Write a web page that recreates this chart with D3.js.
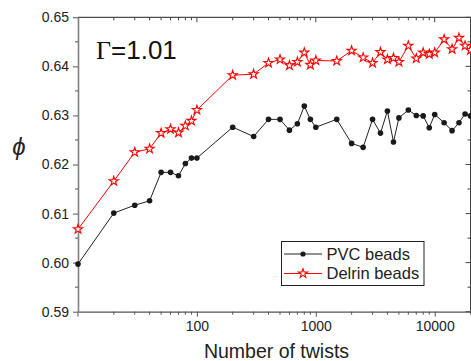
<!DOCTYPE html>
<html>
<head>
<meta charset="utf-8">
<script src="https://cdn.jsdelivr.net/npm/d3@7"></script>
<style>
  body { margin: 0; background: #fff; }
  text { font-family: Arial, "Liberation Sans", sans-serif; }
</style>
</head>
<body>
<script>
// number of twists (shared by both series)
const twists = [10, 20, 30, 40, 50, 60, 70, 80, 90, 100,
    200, 300, 400, 500, 600, 700, 800, 900, 1000, 1500,
    2000, 2500, 3000, 3500, 4000, 4500, 5000, 6000, 7000, 8000, 9000, 10000,
    12000, 14000, 16000, 18000, 20000];

const pvcPhi = [0.5997, 0.6101, 0.6117, 0.6126, 0.6184, 0.6184, 0.6177, 0.6202, 0.6213, 0.6213,
    0.6276, 0.6257, 0.6292, 0.6292, 0.6270, 0.6283, 0.6319, 0.6292, 0.6276, 0.6292,
    0.6243, 0.6235, 0.6292, 0.6264, 0.6309, 0.6246, 0.6295, 0.6311, 0.6300, 0.6299, 0.6275, 0.6302,
    0.6285, 0.6269, 0.6285, 0.6303, 0.6299];

const delrinPhi = [0.6068, 0.6166, 0.6225, 0.6232, 0.6264, 0.6272, 0.6265, 0.6279, 0.6289, 0.6311,
    0.6382, 0.6384, 0.6407, 0.6414, 0.6402, 0.6409, 0.6428, 0.6403, 0.6412, 0.6411,
    0.6432, 0.6418, 0.6407, 0.6429, 0.6414, 0.6417, 0.6409, 0.6442, 0.6416, 0.6428, 0.6425, 0.6428,
    0.6455, 0.6435, 0.6458, 0.6442, 0.6433];

const xTickValues = [100, 1000, 10000];
const yTickValues = [0.59, 0.60, 0.61, 0.62, 0.63, 0.64, 0.65];
const seriesNames = ['PVC beads', 'Delrin beads'];

const width = 471;
const height = 361;
const margin = {top: 17.3, right: 0.5, bottom: 49.3, left: 78};

const svg = d3.select('body')
    .append('svg')
    .attr('width', width)
    .attr('height', height);

const x = d3.scaleLog()
    .domain([10, 20000])
    .range([margin.left, width - margin.right]);

const y = d3.scaleLinear()
    .domain([0.59, 0.65])
    .range([height - margin.bottom, margin.top]);

// minor tick positions
const xMinor = d3.range(1, 5).flatMap(p => d3.range(1, 10).map(k => k * Math.pow(10, p)))
    .filter(v => v > 10 && v <= 20000 && xTickValues.indexOf(v) < 0);
const yMinor = d3.range(0.595, 0.65, 0.01);

const fmtY = d3.format('.2f');

// frame: top and right
svg.append('line')
    .attr('x1', margin.left).attr('x2', width)
    .attr('y1', margin.top).attr('y2', margin.top)
    .attr('stroke', '#222').attr('stroke-width', 1);
svg.append('line')
    .attr('x1', width - margin.right).attr('x2', width - margin.right)
    .attr('y1', margin.top).attr('y2', height - margin.bottom)
    .attr('stroke', '#444').attr('stroke-width', 1);

// top ticks pointing inward
svg.append('g')
    .selectAll('line')
    .data(xMinor.concat(xTickValues))
    .join('line')
    .attr('x1', d => x(d)).attr('x2', d => x(d))
    .attr('y1', margin.top)
    .attr('y2', d => margin.top + (xTickValues.indexOf(d) >= 0 ? 5 : 3))
    .attr('stroke', '#444');

// right ticks pointing inward
svg.append('g')
    .selectAll('line')
    .data(yTickValues.concat(yMinor))
    .join('line')
    .attr('x1', width - margin.right)
    .attr('x2', (d, i) => width - margin.right - (i < yTickValues.length ? 5 : 3))
    .attr('y1', d => y(d)).attr('y2', d => y(d))
    .attr('stroke', '#444');

// bottom axis
const xAxis = svg.append('g')
    .attr('transform', `translate(0,${height - margin.bottom})`)
    .call(d3.axisBottom(x).tickValues(xTickValues).tickFormat(d3.format('d')).tickSize(5).tickPadding(4).tickSizeOuter(0));
xAxis.select('.domain').attr('stroke', '#555').attr('stroke-width', 1.3);
xAxis.selectAll('.tick line').attr('stroke', '#555');
xAxis.selectAll('text').attr('font-size', 14).attr('fill', '#222')
    .attr('font-family', 'Arial, "Liberation Sans", sans-serif');
xAxis.append('g')
    .selectAll('line')
    .data(xMinor.concat([10]))
    .join('line')
    .attr('x1', d => x(d)).attr('x2', d => x(d))
    .attr('y1', 0).attr('y2', d => d === 10 ? 5 : 3)
    .attr('stroke', '#555');

// left axis
const yAxis = svg.append('g')
    .attr('transform', `translate(${margin.left},0)`)
    .call(d3.axisLeft(y).tickValues(yTickValues).tickFormat(fmtY).tickSize(5).tickPadding(4).tickSizeOuter(0));
yAxis.select('.domain').attr('stroke', '#808080').attr('stroke-width', 1.6);
yAxis.selectAll('.tick line').attr('stroke', '#555');
yAxis.selectAll('text').attr('font-size', 14).attr('fill', '#222')
    .attr('font-family', 'Arial, "Liberation Sans", sans-serif');
yAxis.append('g')
    .selectAll('line')
    .data(yMinor)
    .join('line')
    .attr('x1', 0).attr('x2', -3)
    .attr('y1', d => y(d)).attr('y2', d => y(d))
    .attr('stroke', '#555');

// axis titles
svg.append('text')
    .attr('x', (margin.left + width) / 2 + 2)
    .attr('y', 358)
    .attr('text-anchor', 'middle')
    .attr('font-size', 19.5)
    .attr('fill', '#222')
    .text('Number of twists');

svg.append('text')
    .attr('x', 19)
    .attr('y', 155)
    .attr('text-anchor', 'middle')
    .attr('font-size', 24)
    .attr('font-style', 'italic')
    .attr('font-family', '"Liberation Serif", "DejaVu Serif", serif')
    .attr('fill', '#222')
    .text('\u03D5');

// gamma annotation
const gamma = svg.append('text')
    .attr('x', 96)
    .attr('y', 58.5)
    .attr('font-size', 26)
    .attr('fill', '#111');
gamma.append('tspan')
    .attr('font-family', '"Liberation Serif", serif')
    .text('\u0393');
gamma.append('tspan')
    .text('=1.01');

// series
const line = d3.line()
    .x(d => x(d[0]))
    .y(d => y(d[1]));

const pvcData = twists.map((t, i) => [t, pvcPhi[i]]);
const delrinData = twists.map((t, i) => [t, delrinPhi[i]]);

svg.append('path')
    .datum(pvcData)
    .attr('d', line)
    .attr('fill', 'none')
    .attr('stroke', '#222')
    .attr('stroke-width', 1);

svg.append('path')
    .datum(delrinData)
    .attr('d', line)
    .attr('fill', 'none')
    .attr('stroke', '#ff0000')
    .attr('stroke-width', 1);

svg.append('g')
    .selectAll('circle')
    .data(pvcData)
    .join('circle')
    .attr('cx', d => x(d[0]))
    .attr('cy', d => y(d[1]))
    .attr('r', 2.8)
    .attr('fill', '#1a1a1a');

const star = d3.symbol().type(d3.symbolStar).size(26);
svg.append('g')
    .selectAll('path')
    .data(delrinData)
    .join('path')
    .attr('transform', d => `translate(${x(d[0])},${y(d[1])})`)
    .attr('d', star)
    .attr('fill', '#fff')
    .attr('stroke', '#ff0000')
    .attr('stroke-width', 1.1);

// legend
const legend = svg.append('g');
legend.append('rect')
    .attr('x', 281.5).attr('y', 241.5)
    .attr('width', 142.5).attr('height', 44)
    .attr('fill', '#fff')
    .attr('stroke', '#222')
    .attr('stroke-width', 1);

const legendRows = [
    {name: seriesNames[0], color: '#222', y: 254},
    {name: seriesNames[1], color: '#ff0000', y: 273.5}
];
legendRows.forEach((row, i) =>
{
    legend.append('line')
        .attr('x1', 284).attr('x2', 322)
        .attr('y1', row.y).attr('y2', row.y)
        .attr('stroke', row.color);
    if (i === 0)
    {
        legend.append('circle')
            .attr('cx', 303).attr('cy', row.y).attr('r', 2.6)
            .attr('fill', '#1a1a1a');
    }
    else
    {
        legend.append('path')
            .attr('transform', `translate(303,${row.y})`)
            .attr('d', star)
            .attr('fill', '#fff')
            .attr('stroke', '#ff0000')
            .attr('stroke-width', 1.1);
    }
    legend.append('text')
        .attr('x', 326.5)
        .attr('y', row.y + 5.8)
        .attr('font-size', 16.5)
        .attr('fill', '#222')
        .text(row.name);
});
</script>
</body>
</html>
